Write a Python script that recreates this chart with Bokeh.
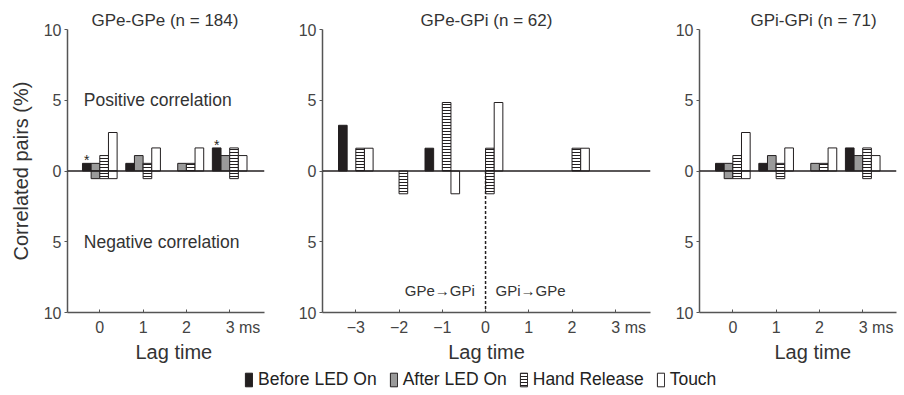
from bokeh.plotting import figure
from bokeh.models import (Range1d, FixedTicker, Span, Label, Title, Legend,
                          LegendItem)
from bokeh.layouts import column, row
from bokeh.core.properties import value
from bokeh.embed import file_html
from bokeh.resources import INLINE

# ---------------- data ----------------
conditions = ["Before LED On", "After LED On", "Hand Release", "Touch"]

side_lags = [0, 1, 2, 3]
side_tick_labels = ["0", "1", "2", "3 ms"]
mid_lags = [-3, -2, -1, 0, 1, 2, 3]
mid_tick_labels = ["\u22123", "\u22122", "\u22121", "0", "1", "2", "3 ms"]
y_ticks = [-10, -5, 0, 5, 10]
y_tick_labels = ["10", "5", "0", "5", "10"]

# % of pairs with positive / negative correlation, rows = conditions
gpe_gpe_pos = [[0.54, 0.54, 0.00, 1.63],
               [0.54, 1.09, 0.54, 1.09],
               [1.09, 0.54, 0.54, 1.63],
               [2.72, 1.63, 1.63, 1.09]]
gpe_gpe_neg = [[0.00, 0.00, 0.00, 0.00],
               [0.54, 0.00, 0.00, 0.00],
               [0.54, 0.54, 0.00, 0.54],
               [0.54, 0.00, 0.00, 0.00]]
gpe_gpe_star_lags = [0, 3]

gpe_gpi_pos = [[3.23, 0.00, 1.61, 0.00, 0.00, 0.00, 0.00],
               [0.00, 0.00, 0.00, 0.00, 0.00, 0.00, 0.00],
               [1.61, 0.00, 4.84, 1.61, 0.00, 1.61, 0.00],
               [1.61, 0.00, 0.00, 4.84, 0.00, 1.61, 0.00]]
gpe_gpi_neg = [[0.00, 0.00, 0.00, 0.00, 0.00, 0.00, 0.00],
               [0.00, 0.00, 0.00, 0.00, 0.00, 0.00, 0.00],
               [0.00, 1.61, 0.00, 1.61, 0.00, 0.00, 0.00],
               [0.00, 0.00, 1.61, 0.00, 0.00, 0.00, 0.00]]

gpi_gpi_pos = [[0.54, 0.54, 0.00, 1.63],
               [0.54, 1.09, 0.54, 1.09],
               [1.09, 0.54, 0.54, 1.63],
               [2.72, 1.63, 1.63, 1.09]]
gpi_gpi_neg = [[0.00, 0.00, 0.00, 0.00],
               [0.54, 0.00, 0.00, 0.00],
               [0.54, 0.54, 0.00, 0.54],
               [0.54, 0.00, 0.00, 0.00]]

# ---------------- style ----------------
FONT = "Liberation Sans"
INK = "#231f20"
AXIS_COL = "#555555"
TEXT_COL = "#333333"
TICK_COL = "#444444"
BAR_W = 0.2
OFFSETS = [-0.3, -0.1, 0.1, 0.3]
STYLES = [
    dict(fill_color=INK),
    dict(fill_color="#9a9a9a"),
    dict(fill_color="white", hatch_pattern="horizontal_line", hatch_color=INK,
         hatch_scale=3, hatch_weight=1),
    dict(fill_color="white"),
]
PANEL_H = 365
TOP = 29
FRAME_H = 283
NBSP = "\u00a0"


def pad_last(labels):
    # keep the digit of the last label centred on its tick, unit to its right
    out = list(labels)
    out[-1] = NBSP * 6 + out[-1]
    return out


def make_panel(title, title_align, title_offset, xlabel_align, xlabel_offset,
               lags, tick_labels, pos, neg, width, bl, br, x0, x1,
               ylabel=None, star_lags=None, divider=None):
    p = figure(width=width, height=PANEL_H, x_range=Range1d(x0, x1),
               y_range=Range1d(-10, 10), output_backend="svg",
               toolbar_location=None, min_border_left=bl, min_border_right=br,
               min_border_top=TOP, min_border_bottom=PANEL_H - TOP - FRAME_H)
    p.outline_line_color = None
    p.xgrid.visible = False
    p.ygrid.visible = False
    p.background_fill_color = "white"

    for ci in range(len(conditions)):
        xs_p, tp = [], []
        xs_n, bt = [], []
        for li, lag in enumerate(lags):
            if pos[ci][li] > 0:
                xs_p.append(lag + OFFSETS[ci]); tp.append(pos[ci][li])
            if neg[ci][li] > 0:
                xs_n.append(lag + OFFSETS[ci]); bt.append(-neg[ci][li])
        p.vbar(x=xs_p, top=tp, bottom=0, width=BAR_W, line_color=INK,
               line_width=1, **STYLES[ci])
        p.vbar(x=xs_n, top=0, bottom=bt, width=BAR_W, line_color=INK,
               line_width=1, **STYLES[ci])

    p.add_layout(Span(location=0, dimension="width", line_color=INK,
                      line_width=1.6))

    if divider is not None:
        p.segment(x0=[divider], y0=[0], x1=[divider], y1=[-10],
                  line_color=INK, line_width=1.5, line_dash="3 2")

    if star_lags:
        sx = [lag + OFFSETS[0] for lag in star_lags]
        sy = [pos[0][lags.index(lag)] for lag in star_lags]
        p.text(x=sx, y=sy, text=["*"] * len(sx), text_font=value(FONT),
               text_font_size="14px", text_align="center",
               text_baseline="alphabetic", y_offset=-3, text_color=INK)

    xa = p.xaxis[0]
    xa.ticker = FixedTicker(ticks=lags)
    xa.major_label_overrides = {l: s for l, s in zip(lags, pad_last(tick_labels))}
    xa.major_tick_in = 3
    xa.major_tick_out = 0
    xa.minor_tick_line_color = None
    xa.axis_line_color = AXIS_COL
    xa.axis_line_width = 1.5
    xa.major_tick_line_color = AXIS_COL
    xa.major_tick_line_width = 1
    xa.major_label_text_font = FONT
    xa.major_label_text_font_size = "16px"
    xa.major_label_text_color = TICK_COL
    xa.major_label_standoff = 6

    ya = p.yaxis[0]
    ya.ticker = FixedTicker(ticks=y_ticks)
    ya.major_label_overrides = {t: s for t, s in zip(y_ticks, y_tick_labels)}
    ya.major_tick_in = 0
    ya.major_tick_out = 3
    ya.minor_tick_line_color = None
    ya.axis_line_color = AXIS_COL
    ya.axis_line_width = 1.5
    ya.major_tick_line_color = AXIS_COL
    ya.major_tick_line_width = 1
    ya.major_label_text_font = FONT
    ya.major_label_text_font_size = "16px"
    ya.major_label_text_color = TICK_COL
    ya.major_label_standoff = 3
    if ylabel:
        ya.axis_label = ylabel
        ya.axis_label_text_font = FONT
        ya.axis_label_text_font_size = "20px"
        ya.axis_label_text_font_style = "normal"
        ya.axis_label_text_color = TEXT_COL
        ya.axis_label_standoff = 9

    p.add_layout(Title(text=title, align=title_align, offset=title_offset,
                       standoff=0, text_font=FONT, text_font_size="17px",
                       text_font_style="normal", text_color=TEXT_COL), "above")
    p.add_layout(Title(text="Lag time", align=xlabel_align,
                       offset=xlabel_offset, standoff=0, text_font=FONT,
                       text_font_size="20px", text_font_style="normal",
                       text_color=TEXT_COL), "below")
    return p


p1 = make_panel("GPe-GPe (n = 184)", "left", 24, "left", 68,
                side_lags, side_tick_labels, gpe_gpe_pos, gpe_gpe_neg,
                275, 67, 11, -0.746, 3.804, ylabel="Correlated pairs (%)",
                star_lags=gpe_gpe_star_lags)
for txt, yy in (("Positive correlation", 5), ("Negative correlation", -5)):
    p1.add_layout(Label(x=-0.37, y=yy, text=txt, text_baseline="middle",
                        text_align="left", text_font=FONT,
                        text_font_size="17.5px", text_color=TEXT_COL))

p2 = make_panel("GPe-GPi (n = 62)", "center", 0, "center", 0,
                mid_lags, mid_tick_labels, gpe_gpi_pos, gpe_gpi_neg,
                385, 47, 10, -3.77, 3.814, divider=0)
p2.add_layout(Label(x=-0.25, y=-8.43, text="GPe\u2192GPi", text_baseline="middle",
                    text_align="right", text_font=FONT, text_font_size="15px",
                    text_color=TEXT_COL))
p2.add_layout(Label(x=0.23, y=-8.43, text="GPi\u2192GPe", text_baseline="middle",
                    text_align="left", text_font=FONT, text_font_size="15px",
                    text_color=TEXT_COL))

p3 = make_panel("GPi-GPi (n = 71)", "left", 51, "left", 75,
                side_lags, side_tick_labels, gpi_gpi_pos, gpi_gpi_neg,
                244, 39, 8, -0.77, 3.78)

# ---------------- legend strip ----------------
pl = figure(width=904, height=30, output_backend="svg", toolbar_location=None,
            x_range=Range1d(0, 1), y_range=Range1d(0, 1), min_border=0)
pl.outline_line_color = None
pl.xaxis.visible = False
pl.yaxis.visible = False
pl.xgrid.visible = False
pl.ygrid.visible = False
items = []
for ci, name in enumerate(conditions):
    # placeholder bar kept outside the visible range: only its legend swatch shows
    r = pl.vbar(x=[-5], top=[-5], bottom=[-6], width=0.1, line_color=INK,
                line_width=1, **STYLES[ci])
    items.append(LegendItem(label=name, renderers=[r]))
legend = Legend(items=items, orientation="horizontal", location=(244, 5),
                glyph_width=9, glyph_height=17, label_standoff=5, spacing=12,
                padding=0, margin=0, border_line_alpha=0,
                background_fill_alpha=0, label_text_font=FONT,
                label_text_font_size="17.5px", label_height=17,
                label_text_color="#222222")
pl.add_layout(legend, "center")

layout = column(row(p1, p2, p3), pl)
open("out.html", "w").write(file_html(layout, INLINE))
